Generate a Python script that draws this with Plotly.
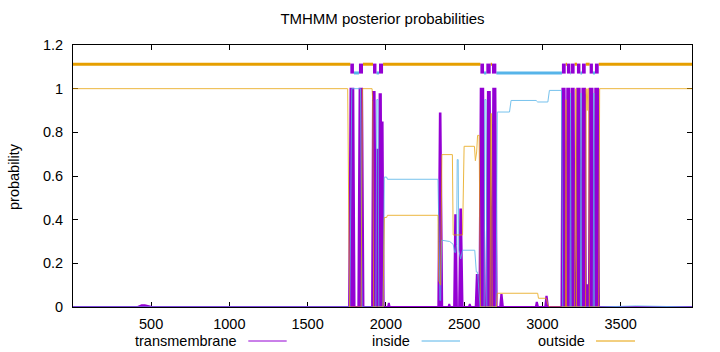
import plotly.graph_objects as go

# ---------------- data ----------------
TITLE = "TMHMM posterior probabilities"
Y_LABEL = "probability"
SEQ_LEN = 3956
X_TICKS = [500, 1000, 1500, 2000, 2500, 3000, 3500]
Y_TICKS = [0, 0.2, 0.4, 0.6, 0.8, 1, 1.2]
SERIES_NAMES = ["transmembrane", "inside", "outside"]

# transmembrane peaks: (start, top_left, top_right, end, height)
TM_PEAKS = [
    (415, 440, 460, 505, 0.008),
    (1765, 1774, 1792, 1800, 1.0),
    (1824, 1832, 1848, 1857, 1.0),
    (1912, 1918, 1928, 1937, 0.985),
    (1940, 1945, 1947, 1952, 0.72),
    (1954, 1960, 1968, 1974, 0.975),
    (1974, 1977, 1979, 1986, 0.85),
    (2014, 2018, 2020, 2024, 0.015),
    (2335, 2345, 2349, 2360, 0.886),
    (2400, 2404, 2406, 2410, 0.01),
    (2436, 2443, 2447, 2454, 0.42),
    (2468, 2476, 2480, 2490, 0.447),
    (2530, 2535, 2537, 2542, 0.01),
    (2574, 2581, 2585, 2592, 0.146),
    (2598, 2606, 2622, 2630, 1.0),
    (2643, 2652, 2664, 2673, 0.985),
    (2678, 2686, 2700, 2708, 1.0),
    (2730, 2737, 2740, 2748, 0.055),
    (2958, 2963, 2966, 2972, 0.02),
    (3018, 3025, 3028, 3036, 0.047),
    (3122, 3128, 3142, 3150, 1.0),
    (3153, 3159, 3172, 3179, 1.0),
    (3182, 3188, 3200, 3206, 1.0),
    (3217, 3223, 3238, 3245, 1.0),
    (3250, 3256, 3272, 3278, 1.0),
    (3280, 3284, 3287, 3292, 0.1),
    (3297, 3303, 3320, 3326, 1.0),
    (3331, 3338, 3356, 3362, 1.0),
]

INSIDE_X = [1, 1770, 1782, 1838, 1848, 1936, 1942, 1950, 1955, 1982, 1990, 2005, 2010,
            2333, 2340, 2345, 2350, 2356, 2408, 2430, 2440, 2446, 2452, 2456, 2462, 2466,
            2478, 2490, 2568, 2578, 2586, 2595, 2602, 2628, 2632, 2640, 2645, 2704, 2712,
            2790, 2800, 2960, 2970, 3035, 3045, 3122, 3130, 3177, 3180, 3183, 3243, 3247,
            3250, 3325, 3329, 3332, 3362, 3600, 3956]
INSIDE_Y = [0, 0, 1.0, 1.0, 0, 0, 0.95, 0.95, 0, 0, 0.595, 0.595, 0.585,
            0.585, 0.3, 0.03, 0.03, 0.306, 0.30, 0.287, 0.25, 0.25, 0.287, 0.675, 0.675, 0.26,
            0.22, 0.26, 0.26, 0.16, 0.16, 0.05, 0, 0, 0.95, 0.95, 0, 0, 0.893,
            0.893, 0.946, 0.946, 0.939, 0.939, 0.992, 0.992, 0, 0, 0.98, 0, 0, 0.98,
            0, 0, 0.98, 0, 0, 0.005, 0]

OUTSIDE_X = [1, 1756, 1768, 1842, 1850, 1912, 1916, 1922, 1982, 1990, 2005, 2010,
             2333, 2338, 2350, 2358, 2425, 2430, 2490, 2500, 2566, 2572, 2580, 2586,
             2596, 2604, 2666, 2670, 2675, 2679, 2706, 2712, 2970, 2975, 3025, 3035,
             3048, 3148, 3151, 3154, 3206, 3210, 3214, 3218, 3276, 3280, 3282, 3286,
             3290, 3296, 3300, 3360, 3366, 3956]
OUTSIDE_Y = [1, 1, 0, 0, 1, 1, 0.946, 0, 0, 0.41, 0.41, 0.42,
             0.42, 0.12, 0.1, 0.698, 0.698, 0.33, 0.33, 0.736, 0.736, 0.67, 0.71, 0.786,
             0.786, 0, 0, 0.886, 0.886, 0, 0, 0.063, 0.063, 0.04, 0.04, 0.01,
             0, 0, 0.95, 0, 0, 1, 1, 0, 0, 1, 0.9, 0.9,
             1, 1, 0, 0, 1, 1]

# predicted topology (segments along the sequence)
TM_SEG = [(1773, 1796), (1828, 1854), (1918, 1940), (1956, 1982), (2604, 2627),
          (2642, 2670), (2678, 2706), (3125, 3149), (3157, 3179), (3183, 3206),
          (3221, 3243), (3253, 3277), (3302, 3323), (3336, 3360)]
INSIDE_SEG = [(1796, 1828), (1940, 1956), (2627, 2642), (2706, 3125), (3179, 3183),
              (3243, 3253), (3323, 3336)]
OUTSIDE_SEG = [(1, 1773), (1854, 1918), (1982, 2604), (2670, 2678), (3149, 3157),
               (3206, 3221), (3277, 3302), (3360, 3956)]

TOPO_LEVELS = {"outside": 1.112, "tm": 1.092, "inside": 1.072}

# ---------------- styling ----------------
PURPLE = "#9400D3"
BLUE = "#56B4E9"
ORANGE = "#E69F00"
FONT = "Liberation Sans"
FS = 14.5
TITLE_FS = 15

W, H = 720, 352
L, R, T, B = 73, 28, 45, 45
PW, PH = W - L - R, H - T - B


def px_x(p):
    return (p - L) / PW


def px_y(p):
    return (H - B - p) / PH


def seg_xy(segs, level):
    xs, ys = [], []
    for s, e in segs:
        xs += [s, e, None]
        ys += [level, level, None]
    return xs, ys


tm_x, tm_y = [1], [0]
for s, a, b, e, h in TM_PEAKS:
    tm_x += [s, a, b, e]
    tm_y += [0, h, h, 0]
tm_x.append(SEQ_LEN)
tm_y.append(0)

fig = go.Figure()
fig.add_trace(go.Scatter(x=tm_x, y=tm_y, mode="lines", name=SERIES_NAMES[0],
                         line=dict(color=PURPLE, width=2), fill="tozeroy",
                         fillcolor=PURPLE, showlegend=False))
fig.add_trace(go.Scatter(x=INSIDE_X, y=INSIDE_Y, mode="lines", name=SERIES_NAMES[1],
                         line=dict(color=BLUE, width=1), opacity=0.8, showlegend=False))
fig.add_trace(go.Scatter(x=OUTSIDE_X, y=OUTSIDE_Y, mode="lines", name=SERIES_NAMES[2],
                         line=dict(color=ORANGE, width=1), opacity=0.75, showlegend=False))

ox, oy = seg_xy(OUTSIDE_SEG, TOPO_LEVELS["outside"])
ix, iy = seg_xy(INSIDE_SEG, TOPO_LEVELS["inside"])
tx, ty = seg_xy(TM_SEG, TOPO_LEVELS["tm"])
fig.add_trace(go.Scatter(x=ox, y=oy, mode="lines", line=dict(color=ORANGE, width=3),
                         showlegend=False, hoverinfo="skip"))
fig.add_trace(go.Scatter(x=ix, y=iy, mode="lines", line=dict(color=BLUE, width=3),
                         showlegend=False, hoverinfo="skip"))
fig.add_trace(go.Scatter(x=tx, y=ty, mode="lines", line=dict(color=PURPLE, width=10),
                         showlegend=False, hoverinfo="skip"))

# legend (gnuplot style: text then sample)
legend_items = [
    (SERIES_NAMES[0], PURPLE, 238.5, 248.3, 286.7),
    (SERIES_NAMES[1], BLUE, 412.0, 421.6, 460.0),
    (SERIES_NAMES[2], ORANGE, 586.7, 596.0, 635.0),
]
annotations = []
shapes = []
for name, col, tx_r, l0, l1 in legend_items:
    annotations.append(dict(text=name, xref="paper", yref="paper", x=px_x(tx_r),
                            y=px_y(341), xanchor="right", yanchor="middle",
                            showarrow=False, font=dict(family=FONT, size=FS, color="black")))
    shapes.append(dict(type="line", xref="paper", yref="paper", x0=px_x(l0), x1=px_x(l1),
                       y0=px_y(341), y1=px_y(341), line=dict(color=col, width=1)))

annotations.append(dict(text=Y_LABEL, xref="paper", yref="paper", x=px_x(14), y=px_y(176),
                        xanchor="center", yanchor="middle", textangle=-90, showarrow=False,
                        font=dict(family=FONT, size=FS, color="black")))

fig.update_layout(
    width=W, height=H,
    margin=dict(l=L, r=R, t=T, b=B),
    paper_bgcolor="white", plot_bgcolor="white",
    font=dict(family=FONT, size=FS, color="black"),
    title=dict(text=TITLE, x=0.5, xref="paper", xanchor="center",
               y=1 - 19 / H, yanchor="middle", font=dict(family=FONT, size=TITLE_FS, color="black")),
    showlegend=False,
    annotations=annotations,
    shapes=shapes,
    xaxis=dict(range=[1, SEQ_LEN], tickvals=X_TICKS, ticktext=[str(v) for v in X_TICKS],
               ticks="inside", ticklen=5, tickcolor="black", showline=True,
               linecolor="black", linewidth=1, mirror="ticks", showgrid=False,
               zeroline=False, layer="below traces", ticklabelstandoff=4),
    yaxis=dict(range=[0, 1.2], tickvals=Y_TICKS, ticktext=["0", "0.2", "0.4", "0.6", "0.8", "1", "1.2"],
               ticks="inside", ticklen=5, tickcolor="black", showline=True,
               linecolor="black", linewidth=1, mirror="ticks", showgrid=False,
               zeroline=False, layer="below traces", ticklabelstandoff=6),
)

fig.write_html("out.html")
